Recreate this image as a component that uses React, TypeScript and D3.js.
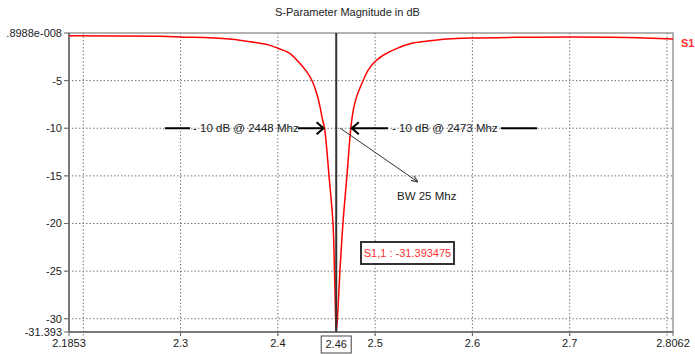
import * as d3 from "d3";

// S11 magnitude (GHz, dB)
const freqs = [
  2.1853, 2.2788, 2.3, 2.3498, 2.3816, 2.392, 2.4, 2.4122, 2.4225, 2.4296,
  2.4348, 2.4399, 2.4433, 2.446, 2.448, 2.4526, 2.4567, 2.4582, 2.4594, 2.46,
  2.4612, 2.4638, 2.4669, 2.471, 2.475, 2.4776, 2.481, 2.4879, 2.493, 2.5,
  2.5087, 2.5225, 2.5377, 2.5545, 2.5736, 2.6006, 2.65, 2.7, 2.74, 2.77, 2.8062,
];
const s11 = [
  -0.28, -0.35, -0.42, -0.63, -1.08, -1.3, -1.6, -2.13, -3.18, -4.06,
  -4.93, -6.33, -7.73, -9.13, -10, -15, -20, -25, -30, -31.393,
  -30, -25, -20, -15, -10, -8.08, -6.68, -4.93, -3.88, -3.0,
  -2.31, -1.61, -1.08, -0.84, -0.63, -0.52, -0.45, -0.42, -0.45, -0.5, -0.63,
];

const xGrid = [2.2, 2.3, 2.4, 2.5, 2.6, 2.7, 2.8];
const xLabelVals = [2.1853, 2.3, 2.4, 2.5, 2.6, 2.7, 2.8062];
const xLabels = ["2.1853", "2.3", "2.4", "2.5", "2.6", "2.7", "2.8062"];
const yGrid = [-5, -10, -15, -20, -25, -30];
const yLabelVals = [0, -5, -10, -15, -20, -25, -30, -31.393];
const yLabels = [".8988e-008", "-5", "-10", "-15", "-20", "-25", "-30", "-31.393"];

const markerFreq = 2.46;
const markerText = "S1,1 : -31.393475";
const lowEdge = { f: 2.448, db: -10, label: "- 10 dB @ 2448 Mhz" };
const highEdge = { f: 2.475, db: -10, label: "- 10 dB @ 2473 Mhz" };

const W = 695;
const H = 354;
const m = { left: 69, right: 22, top: 33, bottom: 22 };
const font = "'Liberation Sans', Arial, sans-serif";

export default function App() {
  const x = d3.scaleLinear().domain([2.1853, 2.8062]).range([m.left, W - m.right]);
  const y = d3.scaleLinear().domain([-31.393, 0]).range([H - m.bottom, m.top]);
  const pts = freqs.map((f, i) => [f, s11[i]] as [number, number]);
  const line = d3
    .line<[number, number]>()
    .x((d) => x(d[0]))
    .y((d) => y(d[1]))
    .curve(d3.curveCatmullRom.alpha(0.5));

  const x0 = m.left;
  const x1 = W - m.right;
  const y0 = m.top;
  const y1 = H - m.bottom;
  const xm = x(markerFreq);
  const ya = y(-10);
  const xl = x(lowEdge.f);
  const xh = x(highEdge.f);

  return (
    <svg
      width={W}
      height={H}
      style={{ position: "absolute", left: 0, top: 0, background: "#fff" }}
      fontFamily={font}
    >
      <defs>
        <clipPath id="plot">
          <rect x={x0} y={y0} width={x1 - x0} height={y1 - y0} />
        </clipPath>
        <marker id="bw" viewBox="0 0 10 10" refX="10" refY="5" markerWidth="7" markerHeight="7" orient="auto">
          <path d="M0,1 L10,5 L0,9" fill="none" stroke="#333" strokeWidth="1.5" />
        </marker>
      </defs>

      <text x={W / 2} y={16} textAnchor="middle" fontSize={11} fill="#222">
        S-Parameter Magnitude in dB
      </text>

      {/* grid */}
      {xGrid.map((v) => (
        <line key={"gx" + v} x1={x(v)} x2={x(v)} y1={y0} y2={y1 + 4} stroke="#777" strokeDasharray="1.5,2" />
      ))}
      {yGrid.map((v) => (
        <line key={"gy" + v} x1={x0 - 4} x2={x1} y1={y(v)} y2={y(v)} stroke="#777" strokeDasharray="1.5,2" />
      ))}

      {/* frame */}
      <rect x={x0} y={y0} width={x1 - x0} height={y1 - y0} fill="none" stroke="#999" strokeWidth={1.5} />
      <line x1={x0} x2={x0} y1={y0} y2={y1} stroke="#666" strokeWidth={1.5} />
      <line x1={x0} x2={x1} y1={y1} y2={y1} stroke="#666" strokeWidth={1.5} />

      {/* y labels */}
      {yLabelVals.map((v, i) => (
        <g key={"yl" + v}>
          <line x1={x0 - 5} x2={x0} y1={y(v)} y2={y(v)} stroke="#666" />
          <text x={x0 - 7} y={y(v) + 4} textAnchor="end" fontSize={11} fill="#222">
            {yLabels[i]}
          </text>
        </g>
      ))}

      {/* x labels */}
      {xLabelVals.map((v, i) => (
        <g key={"xl" + v}>
          <line x1={x(v)} x2={x(v)} y1={y1} y2={y1 + 4} stroke="#666" />
          <text x={x(v)} y={y1 + 15} textAnchor="middle" fontSize={11} fill="#222">
            {xLabels[i]}
          </text>
        </g>
      ))}
      <rect x={xm - 15} y={y1 + 4} width={30} height={17} fill="#fff" stroke="#444" />
      <text x={xm} y={y1 + 16} textAnchor="middle" fontSize={11} fill="#222">
        {String(markerFreq)}
      </text>

      {/* curve */}
      <path d={line(pts) ?? ""} fill="none" stroke="#ff0000" strokeWidth={1.5} clipPath="url(#plot)" />
      <line x1={xm} x2={xm} y1={y0} y2={y1} stroke="#333" strokeWidth={2} />

      <text x={681} y={47} fontSize={11} fontWeight="bold" fill="#ff3030">
        S1
      </text>

      {/* -10 dB annotations */}
      <line x1={165} x2={190} y1={ya} y2={ya} stroke="#000" strokeWidth={2} />
      <text x={193} y={ya + 4} fontSize={11.5} fill="#222">
        {lowEdge.label}
      </text>
      <line x1={298} x2={xl - 1} y1={ya} y2={ya} stroke="#000" strokeWidth={2} />
      <path d={`M${xl - 8},${ya - 6} L${xl - 1},${ya} L${xl - 8},${ya + 6}`} fill="none" stroke="#000" strokeWidth={2} />

      <line x1={xh + 1} x2={388} y1={ya} y2={ya} stroke="#000" strokeWidth={2} />
      <path d={`M${xh + 8},${ya - 6} L${xh + 1},${ya} L${xh + 8},${ya + 6}`} fill="none" stroke="#000" strokeWidth={2} />
      <text x={392} y={ya + 4} fontSize={11.5} fill="#222">
        {highEdge.label}
      </text>
      <line x1={501} x2={537} y1={ya} y2={ya} stroke="#000" strokeWidth={2} />

      <line x1={xm + 4} y1={ya} x2={418} y2={182} stroke="#333" strokeWidth={1} markerEnd="url(#bw)" />
      <text x={397} y={200} fontSize={11.5} fill="#222">
        BW 25 Mhz
      </text>

      {/* marker readout */}
      <rect x={361} y={242} width={93} height={22} fill="#fff" stroke="#333" strokeWidth={2} />
      <text x={407.5} y={257} textAnchor="middle" fontSize={11} fill="#ff3030">
        {markerText}
      </text>
    </svg>
  );
}
